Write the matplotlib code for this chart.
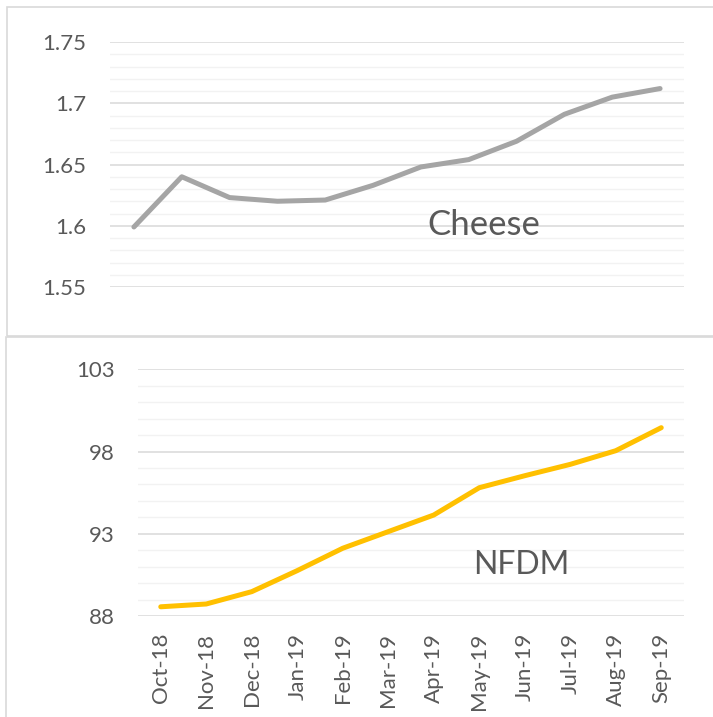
import numpy as np
import matplotlib.pyplot as plt
from matplotlib.patches import Rectangle
from matplotlib.ticker import MultipleLocator

# --------------------------------------------
# datos
# --------------------------------------------
meses = ["Oct-18", "Nov-18", "Dec-18", "Jan-19", "Feb-19", "Mar-19",
         "Apr-19", "May-19", "Jun-19", "Jul-19", "Aug-19", "Sep-19"]

cheese = [1.599, 1.640, 1.623, 1.620, 1.621, 1.633,
          1.648, 1.654, 1.669, 1.691, 1.705, 1.712]

nfdm = [88.56, 88.73, 89.48, 90.76, 92.12, 93.13,
        94.14, 95.80, 96.53, 97.22, 98.05, 99.45]

ticks_cheese = [1.55, 1.6, 1.65, 1.7, 1.75]
ticks_nfdm = [88, 93, 98, 103]

plt.rcParams['font.family'] = ['Lato', 'DejaVu Sans']

gris_txt = "#595959"
W, H = 713, 717

fig = plt.figure(figsize=(W / 100, H / 100), dpi=100)

# marcos de los dos graficos
fig.patches.append(Rectangle((7 / W, 1 - 336 / H), 720 / W, 329.5 / H,
                             transform=fig.transFigure, fill=False,
                             edgecolor="#D9D9D9", lw=1.2))
fig.patches.append(Rectangle((6 / W, -0.05), 720 / W, 1 - 337 / H + 0.05,
                             transform=fig.transFigure, fill=False,
                             edgecolor="#D9D9D9", lw=1.2))


def estilo(ax, ymin, ymax, menor, pad):
    ax.set_xlim(-0.5, len(meses) - 0.5)
    ax.set_ylim(ymin, ymax)
    ax.yaxis.set_minor_locator(MultipleLocator(menor))
    ax.grid(which="minor", axis="y", color="#F2F2F2", lw=1.0, zorder=0)
    ax.grid(which="major", axis="y", color="#D9D9D9", lw=1.1, zorder=0)
    for s in ax.spines.values():
        s.set_visible(False)
    ax.tick_params(which="both", length=0, labelsize=16, colors=gris_txt)
    ax.tick_params(axis="y", pad=pad)
    ax.set_axisbelow(True)


x = np.arange(len(meses))

# --------------------------------------------
# Cheese
# --------------------------------------------
ax1 = fig.add_axes([110 / W, 1 - 287 / H, 574 / W, 245 / H])
ax1.plot(x, cheese, color="#A5A5A5", lw=3.6, solid_capstyle="round")
ax1.set_yticks(ticks_cheese)
ax1.set_yticklabels([f"{t:g}" for t in ticks_cheese])
estilo(ax1, 1.55, 1.75, 0.01, 17)
ax1.set_xticks([])
ax1.text(7.32, 1.6006, "Cheese", fontsize=25, color=gris_txt,
         ha="center", va="center")

# --------------------------------------------
# NFDM
# --------------------------------------------
ax2 = fig.add_axes([138 / W, 1 - 616 / H, 546 / W, 246.7 / H])
ax2.plot(x, nfdm, color="#FFC000", lw=3.6, solid_capstyle="round")
ax2.set_yticks(ticks_nfdm)
estilo(ax2, 88, 103, 1, 17)
ax2.set_xticks(x)
ax2.set_xticklabels(meses, rotation=90)
ax2.tick_params(axis="x", pad=12)
ax2.text(7.92, 91.1, "NFDM", fontsize=23, color=gris_txt,
         ha="center", va="center")

fig.savefig("out.png", dpi=100)
